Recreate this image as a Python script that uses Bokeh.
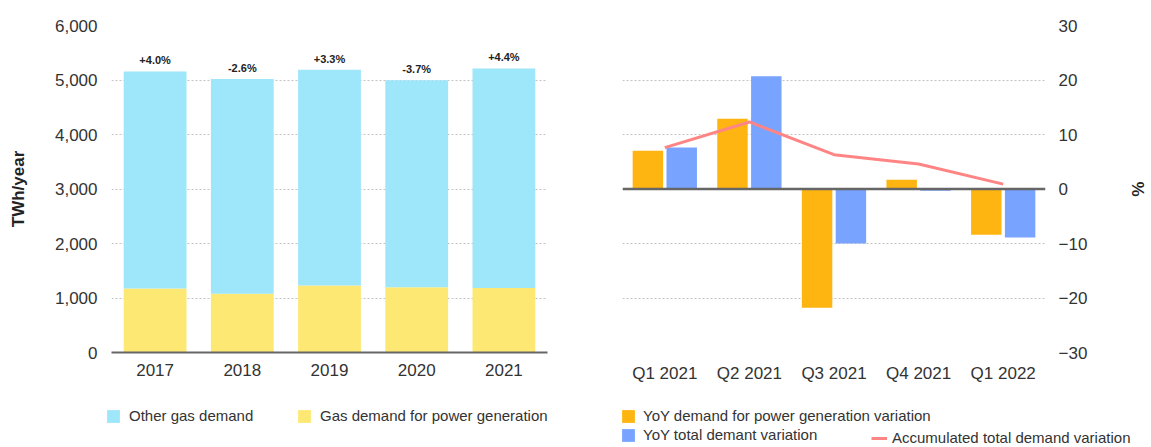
from bokeh.plotting import figure
from bokeh.models import (FactorRange, Range1d, Legend, LegendItem, Span,
                          SingleIntervalTicker, NumeralTickFormatter, ColumnDataSource)
from bokeh.layouts import row, column
from bokeh.transform import dodge
from bokeh.core.properties import value
from bokeh.embed import file_html
from bokeh.resources import INLINE

# ---------------- data ----------------
years = ["2017", "2018", "2019", "2020", "2021"]
power_demand = [1176, 1080, 1231, 1195, 1182]      # TWh/year
other_demand = [3982, 3938, 3958, 3800, 4031]      # TWh/year
growth_labels = ["+4.0%", "-2.6%", "+3.3%", "-3.7%", "+4.4%"]

quarters = ["Q1 2021", "Q2 2021", "Q3 2021", "Q4 2021", "Q1 2022"]
power_var = [7.0, 12.9, -21.8, 1.7, -8.4]          # %
total_var = [7.6, 20.7, -10.0, -0.3, -8.9]         # %
accum_var = [7.6, 12.3, 6.3, 4.6, 0.9]             # %

# ---------------- style ----------------
FONT = "'Liberation Sans', Arial, sans-serif"
TXT = "#333333"
C_OTHER = "#9EE6FA"
C_POWER = "#FDE874"
C_ORANGE = "#FFB511"
C_BLUE = "#78A3FF"
C_LINE = "#FF8585"
GRID = "#c4c4c4"
TOP_H = 385

# ---------------- left chart ----------------
src1 = ColumnDataSource(dict(
    year=years, power=power_demand, other=other_demand,
    total=[a + b for a, b in zip(power_demand, other_demand)],
    label=growth_labels))

p1 = figure(x_range=FactorRange(*years, range_padding=0), y_range=Range1d(0, 6000),
            width=598, height=TOP_H, output_backend="svg", toolbar_location=None,
            min_border_left=111, min_border_right=51, min_border_top=25, min_border_bottom=30)
p1.outline_line_color = None
rs = p1.vbar_stack(["power", "other"], x="year", width=0.72, source=src1,
                   color=[C_POWER, C_OTHER], line_color=None)
p1.text(x="year", y="total", text="label", source=src1, text_align="center",
        text_baseline="middle", y_offset=-11, text_font=value(FONT),
        text_font_size="11px", text_font_style="bold", text_color="#222222")

p1.xgrid.grid_line_color = None
p1.ygrid.grid_line_color = GRID
p1.ygrid.grid_line_dash = "2 2"
p1.yaxis.ticker = SingleIntervalTicker(interval=1000)
p1.yaxis.formatter = NumeralTickFormatter(format="0,0")
for ax in (p1.xaxis[0], p1.yaxis[0]):
    ax.major_tick_line_color = None
    ax.minor_tick_line_color = None
    ax.major_label_text_font = FONT
    ax.major_label_text_font_size = "17px"
    ax.major_label_text_color = TXT
p1.yaxis.axis_line_color = None
p1.yaxis.major_label_standoff = 8
p1.yaxis.axis_label = "TWh/year"
p1.yaxis.axis_label_text_font = FONT
p1.yaxis.axis_label_text_font_style = "bold"
p1.yaxis.axis_label_text_font_size = "17px"
p1.yaxis.axis_label_text_color = "#222222"
p1.yaxis.axis_label_standoff = 24
p1.xaxis.axis_line_color = "#666666"
p1.xaxis.axis_line_width = 2
p1.xaxis.major_label_standoff = 5

# ---------------- right chart ----------------
src2 = ColumnDataSource(dict(q=quarters, power=power_var, total=total_var, accum=accum_var))
p2 = figure(x_range=FactorRange(*quarters, range_padding=0), y_range=Range1d(-30, 30),
            width=552, height=TOP_H, output_backend="svg", toolbar_location=None,
            y_axis_location="right",
            min_border_left=24, min_border_right=93, min_border_top=25, min_border_bottom=30)
p2.outline_line_color = None
p2.vbar(x=dodge("q", -0.2, range=p2.x_range), top="power", width=0.36,
        source=src2, color=C_ORANGE, line_color=None)
p2.vbar(x=dodge("q", 0.2, range=p2.x_range), top="total", width=0.36,
        source=src2, color=C_BLUE, line_color=None)
p2.line(x="q", y="accum", source=src2, line_color=C_LINE, line_width=3)
p2.add_layout(Span(location=0, dimension="width", line_color="#666666", line_width=2.5))

p2.xgrid.grid_line_color = None
p2.ygrid.grid_line_color = GRID
p2.ygrid.grid_line_dash = "2 2"
p2.yaxis.ticker = SingleIntervalTicker(interval=10)
for ax in (p2.xaxis[0], p2.yaxis[0]):
    ax.major_tick_line_color = None
    ax.minor_tick_line_color = None
    ax.axis_line_color = None
    ax.major_label_text_font = FONT
    ax.major_label_text_font_size = "17px"
    ax.major_label_text_color = TXT
p2.yaxis.major_label_standoff = 7
p2.yaxis.axis_label = "%"
p2.yaxis.axis_label_text_font = FONT
p2.yaxis.axis_label_text_font_style = "bold"
p2.yaxis.axis_label_text_font_size = "17px"
p2.yaxis.axis_label_text_color = "#222222"
p2.yaxis.axis_label_standoff = 38
p2.xaxis.major_label_standoff = 5

# ---------------- legend strip ----------------
# legend swatches come from proxy renderers whose single point lies outside the strip's view
pl = figure(width=1150, height=61, x_range=Range1d(0, 1), y_range=Range1d(0, 1),
            output_backend="svg", toolbar_location=None,
            min_border_left=0, min_border_right=0, min_border_top=0, min_border_bottom=0)
pl.axis.visible = False
pl.grid.visible = False
pl.outline_line_color = None
proxy = ColumnDataSource(dict(x=[5, 6], y=[5, 5]))
g_other = pl.vbar(x="x", top="y", width=0.1, source=proxy, color=C_OTHER, line_color=None)
g_power = pl.vbar(x="x", top="y", width=0.1, source=proxy, color=C_POWER, line_color=None)
g_or = pl.vbar(x="x", top="y", width=0.1, source=proxy, color=C_ORANGE, line_color=None)
g_bl = pl.vbar(x="x", top="y", width=0.1, source=proxy, color=C_BLUE, line_color=None)
g_ln = pl.line(x="x", y="y", source=proxy, line_color=C_LINE, line_width=3)


def make_legend(label, rend, loc, standoff=7):
    return Legend(items=[LegendItem(label=label, renderers=[rend])], location=loc,
                  orientation="horizontal", padding=0, margin=0, border_line_color=None,
                  background_fill_alpha=0, glyph_width=16, glyph_height=16, label_height=16,
                  label_standoff=standoff, label_text_font=FONT, label_text_font_size="15px",
                  label_text_color=TXT)


pl.add_layout(make_legend("Other gas demand", g_other, (105, 22), 8))
pl.add_layout(make_legend("Gas demand for power generation", g_power, (296, 22), 8))
pl.add_layout(make_legend("YoY demand for power generation variation", g_or, (620, 22)))
pl.add_layout(make_legend("YoY total demant variation", g_bl, (620, 3)))
pl.add_layout(make_legend("Accumulated total demand variation", g_ln, (871, 0), 5))

layout = column(row(p1, p2), pl)
open("out.html", "w").write(file_html(layout, INLINE))
